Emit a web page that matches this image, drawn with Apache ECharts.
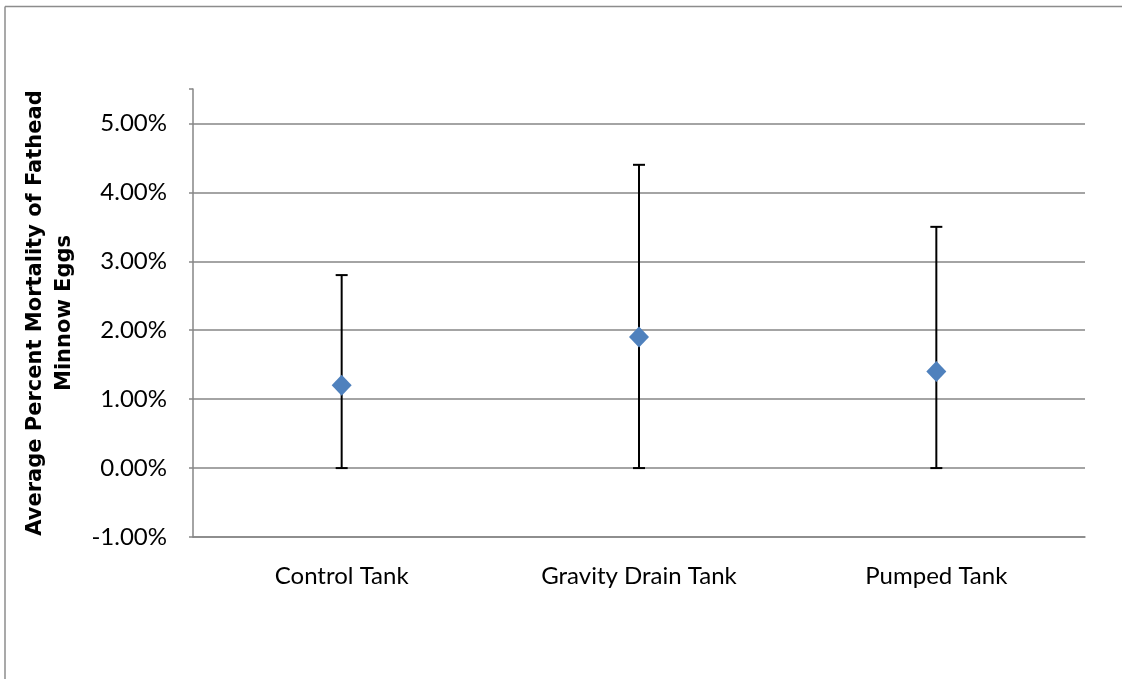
<!DOCTYPE html>
<html>
<head>
<meta charset="utf-8">
<script src="https://cdn.jsdelivr.net/npm/echarts@6/dist/echarts.min.js"></script>
<style>
html,body{margin:0;padding:0;background:#fff;}
#chart{width:1122px;height:679px;}
</style>
</head>
<body>
<div id="chart"></div>
<script>
var categories = ['Control Tank', 'Gravity Drain Tank', 'Pumped Tank'];
var meanValues = [0.012, 0.019, 0.014];
var errLow = [0.0, 0.0, 0.0];
var errHigh = [0.028, 0.044, 0.035];
var yTicks = [-0.01, 0, 0.01, 0.02, 0.03, 0.04, 0.05];

var chart = echarts.init(document.getElementById('chart'), null, {renderer: 'canvas'});

var errData = categories.map(function (c, i) { return [i, errLow[i], errHigh[i]]; });

var option = {
  animation: false,
  backgroundColor: '#ffffff',
  grid: {left: 193, right: 37, top: 89, bottom: 142, containLabel: false},
  graphic: [
    {type: 'line', shape: {x1: 5, y1: 6.5, x2: 1122, y2: 6.5}, style: {stroke: '#8c8c8c', lineWidth: 1.5}},
    {type: 'line', shape: {x1: 5, y1: 6.5, x2: 5, y2: 679}, style: {stroke: '#8c8c8c', lineWidth: 1.5}}
  ],
  xAxis: {
    type: 'category',
    data: categories,
    axisLine: {show: true, onZero: false, lineStyle: {color: '#868686', width: 1.5}},
    axisTick: {show: false},
    axisLabel: {color: '#000', fontFamily: 'Lato', fontSize: 24, margin: 27},
    splitLine: {show: false}
  },
  yAxis: {
    type: 'value',
    min: -0.01,
    max: 0.055,
    interval: 0.01,
    name: 'Average Percent Mortality of Fathead\nMinnow Eggs',
    nameLocation: 'middle',
    nameGap: 114,
    nameRotate: 90,
    nameTextStyle: {color: '#000', fontFamily: 'DejaVu Sans', fontWeight: 'bold', fontSize: 21, lineHeight: 29},
    axisLine: {show: true, lineStyle: {color: '#868686', width: 1.5}},
    axisTick: {show: true, length: 4, lineStyle: {color: '#868686', width: 1.5}},
    axisLabel: {
      color: '#000', fontFamily: 'Lato', fontSize: 24, margin: 26,
      formatter: function (v) {
        for (var i = 0; i < yTicks.length; i++) {
          if (Math.abs(v - yTicks[i]) < 1e-9) return (v * 100).toFixed(2) + '%';
        }
        return '';
      }
    },
    splitLine: {
      show: true,
      lineStyle: {color: ['#868686', '#868686', '#868686', '#868686', '#868686', '#868686', '#868686', 'rgba(0,0,0,0)'], width: 1.5}
    }
  },
  series: [
    {
      type: 'custom',
      name: 'error',
      data: errData,
      z: 2,
      renderItem: function (params, api) {
        var x = api.value(0);
        var lo = api.coord([x, api.value(1)]);
        var hi = api.coord([x, api.value(2)]);
        var cap = 6;
        var st = {stroke: '#000', lineWidth: 2};
        return {
          type: 'group',
          children: [
            {type: 'line', shape: {x1: lo[0], y1: lo[1], x2: hi[0], y2: hi[1]}, style: st},
            {type: 'line', shape: {x1: hi[0] - cap, y1: hi[1], x2: hi[0] + cap, y2: hi[1]}, style: st},
            {type: 'line', shape: {x1: lo[0] - cap, y1: lo[1], x2: lo[0] + cap, y2: lo[1]}, style: st}
          ]
        };
      }
    },
    {
      type: 'scatter',
      name: 'mean',
      data: meanValues,
      symbol: 'diamond',
      symbolSize: [20, 21],
      z: 3,
      itemStyle: {color: '#4F81BD', opacity: 1}
    }
  ]
};
chart.setOption(option);
</script>
</body>
</html>
